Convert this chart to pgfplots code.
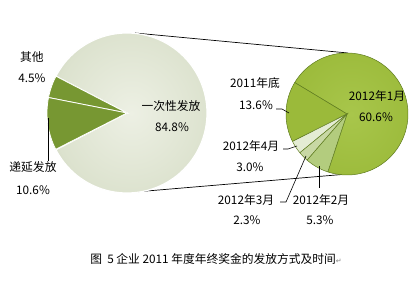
\documentclass[border=0pt]{standalone}
\usepackage{fontspec}
\usepackage{pgfplots}
\pgfplotsset{compat=1.18}
\newfontfamily\cjk{Noto Sans CJK SC}
\newfontfamily\dejavu{DejaVu Sans}
\newcommand\lbl{\cjk\fontsize{11.8}{13}\selectfont}
% data (percent of all firms)
\def\vOnce{84.8}\def\vOther{4.5}\def\vDefer{10.6}
\def\rJan{60.6}\def\rEnd{13.6}\def\rApr{3.0}\def\rMar{2.3}\def\rFeb{5.3}
% angles, left pie
\pgfmathsetmacro\LaS{-\vOnce*3.6/2}
\pgfmathsetmacro\LaE{\vOnce*3.6/2}
\pgfmathsetmacro\LbE{\LaE+\vOther*3.6}
\pgfmathsetmacro\LcE{\LbE+\vDefer*3.6}
% angles, right pie (scaled to 84.8)
\pgfmathsetmacro\k{360/\vOnce}
\pgfmathsetmacro\RaS{-108.3}
\pgfmathsetmacro\RaE{\RaS+\rJan*\k}
\pgfmathsetmacro\RbE{\RaE+\rEnd*\k}
\pgfmathsetmacro\RcE{\RbE+\rApr*\k}
\pgfmathsetmacro\RdE{\RcE+\rMar*\k}
\pgfmathsetmacro\ReE{\RdE+\rFeb*\k}
\definecolor{bigin}{HTML}{EDF0E4}
\definecolor{bigmid}{HTML}{DCE2CE}
\definecolor{bigout}{HTML}{B2BB9E}
\definecolor{olv}{HTML}{779732}
\definecolor{ygin}{HTML}{A8C64B}
\definecolor{ygmid}{HTML}{9BBA3A}
\definecolor{ygout}{HTML}{7E9E29}
\definecolor{sApr}{HTML}{E4ECD4}
\definecolor{sMar}{HTML}{C8D8A4}
\definecolor{sFeb}{HTML}{B3CC7E}
\definecolor{edge}{HTML}{5F7C20}
\pgfdeclareradialshading{bigpie}{\pgfpoint{0bp}{0bp}}{color(0bp)=(bigin); color(26bp)=(bigmid); color(44bp)=(bigout); color(50bp)=(bigout)}
\pgfdeclareradialshading{ygpie}{\pgfpoint{0bp}{0bp}}{color(0bp)=(ygin); color(30bp)=(ygmid); color(46bp)=(ygout); color(50bp)=(ygout)}
\begin{document}
\begin{tikzpicture}
\begin{axis}[width=420bp,height=286bp,scale only axis,xmin=0,xmax=420,ymin=0,ymax=286,hide axis,clip=false]
\path (axis cs:0,0) rectangle (axis cs:420,286);
% connector lines
\addplot[black, line width=0.7pt] coordinates {(135,253) (348,233)};
\addplot[black, line width=0.7pt] coordinates {(135,94) (348,112)};
% left pie
\addplot[shading=bigpie, shade, draw=white, line width=1.2pt, domain=\LaS:\LaE, samples=120, variable=\t]
  ({127+80*cos(\t)},{173+80*sin(\t)}) -- (axis cs:127,173) -- cycle;
\addplot[fill=olv, draw=white, line width=0.8pt, domain=\LaE:\LbE, samples=20, variable=\t]
  ({127+80*cos(\t)},{173+80*sin(\t)}) -- (axis cs:127,173) -- cycle;
\addplot[fill=olv, draw=white, line width=0.8pt, domain=\LbE:\LcE, samples=30, variable=\t]
  ({127+80*cos(\t)},{173+80*sin(\t)}) -- (axis cs:127,173) -- cycle;
% right pie
\addplot[shading=ygpie, shade, draw=edge, line width=0.5pt, domain=\RaS:\RaE, samples=120, variable=\t]
  ({347+61*cos(\t)},{172+61*sin(\t)}) -- (axis cs:347,172) -- cycle;
\addplot[fill=ygmid, draw=edge, line width=0.5pt, domain=\RaE:\RbE, samples=40, variable=\t]
  ({347+61*cos(\t)},{172+61*sin(\t)}) -- (axis cs:347,172) -- cycle;
\addplot[fill=sApr, draw=edge, line width=0.5pt, domain=\RbE:\RcE, samples=15, variable=\t]
  ({347+61*cos(\t)},{172+61*sin(\t)}) -- (axis cs:347,172) -- cycle;
\addplot[fill=sMar, draw=edge, line width=0.5pt, domain=\RcE:\RdE, samples=15, variable=\t]
  ({347+61*cos(\t)},{172+61*sin(\t)}) -- (axis cs:347,172) -- cycle;
\addplot[fill=sFeb, draw=edge, line width=0.5pt, domain=\RdE:\ReE, samples=20, variable=\t]
  ({347+61*cos(\t)},{172+61*sin(\t)}) -- (axis cs:347,172) -- cycle;
% leader lines
\addplot[black, line width=0.6pt] coordinates {(48,168) (48,125)};
\addplot[black, line width=0.6pt] coordinates {(276,177) (282,177) (289,173)};
\addplot[black, line width=0.6pt] coordinates {(283,137) (288,137) (297,140)};
\addplot[black, line width=0.6pt] coordinates {(280,84) (286,84) (306,130)};
\addplot[black, line width=0.6pt] coordinates {(319,120) (319,98)};
% labels
\node[font=\lbl] at (axis cs:32,229) {其他};
\node[font=\lbl] at (axis cs:32,208) {4.5\%};
\node[font=\lbl] at (axis cs:33,119) {递延发放};
\node[font=\lbl] at (axis cs:33,96) {10.6\%};
\node[font=\lbl] at (axis cs:171,180) {一次性发放};
\node[font=\lbl] at (axis cs:172,159) {84.8\%};
\node[font=\lbl] at (axis cs:255,203) {2011年底};
\node[font=\lbl] at (axis cs:256,181) {13.6\%};
\node[font=\lbl] at (axis cs:377,190) {2012年1月};
\node[font=\lbl] at (axis cs:376,169) {60.6\%};
\node[font=\lbl] at (axis cs:251,140) {2012年4月};
\node[font=\lbl] at (axis cs:250,119) {3.0\%};
\node[font=\lbl] at (axis cs:246,86) {2012年3月};
\node[font=\lbl] at (axis cs:247,66) {2.3\%};
\node[font=\lbl] at (axis cs:321,86) {2012年2月};
\node[font=\lbl] at (axis cs:320,66) {5.3\%};
\node[font=\lbl] at (axis cs:216,27) {图\ \ 5 企业 2011 年度年终奖金的发放方式及时间{\dejavu\fontsize{7}{8}\selectfont\color{gray}↵}};
\end{axis}
\end{tikzpicture}
\end{document}
